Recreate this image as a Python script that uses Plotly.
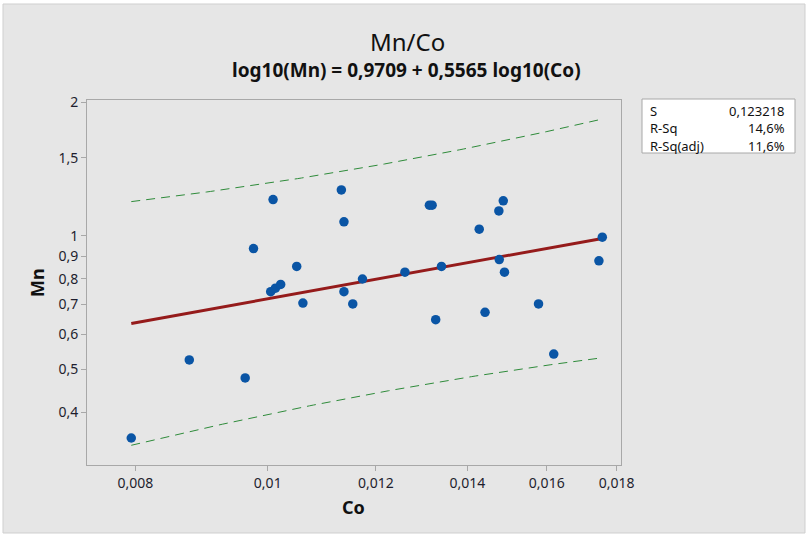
import numpy as np
import plotly.graph_objects as go

# Observations (Co, Mn)
co = [0.007946, 0.008762, 0.009627, 0.009763, 0.01009, 0.01005, 0.01013, 0.01022,
      0.01050, 0.01061, 0.01132, 0.01137, 0.01137, 0.01154, 0.01173, 0.01260,
      0.01313, 0.01319, 0.01327, 0.01340, 0.01428, 0.01442, 0.01476, 0.01487,
      0.01477, 0.01490, 0.01578, 0.01619, 0.01747, 0.01757]
mn = [0.350, 0.525, 0.478, 0.936, 1.207, 0.748, 0.762, 0.777,
      0.853, 0.705, 1.269, 1.075, 0.748, 0.702, 0.799, 0.828,
      1.172, 1.172, 0.647, 0.853, 1.035, 0.672, 1.138, 1.199,
      0.884, 0.828, 0.702, 0.541, 0.878, 0.993]

# Regression summary (log10 scale)
INTERCEPT = 0.9709
SLOPE = 0.5565
S = 0.123218
T_CRIT = 2.048  # t(0.975, df=28)
stats_labels = ["S", "R-Sq", "R-Sq(adj)"]
stats_values = ["0,123218", "14,6%", "11,6%"]

x_ticks = [0.008, 0.01, 0.012, 0.014, 0.016, 0.018]
x_ticktext = ["0,008", "0,01", "0,012", "0,014", "0,016", "0,018"]
y_ticks = [0.4, 0.5, 0.6, 0.7, 0.8, 0.9, 1, 1.5, 2]
y_ticktext = ["0,4", "0,5", "0,6", "0,7", "0,8", "0,9", "1", "1,5", "2"]

# Fitted line and 95% prediction interval
lx = np.log10(co)
n = len(lx)
xbar = lx.mean()
sxx = ((lx - xbar) ** 2).sum()
grid = np.linspace(lx.min(), lx.max(), 120)
fit = INTERCEPT + SLOPE * grid
half = T_CRIT * S * np.sqrt(1 + 1 / n + (grid - xbar) ** 2 / sxx)
gx = 10 ** grid

W, H = 809, 536
L, R, T, B = 87, 621, 100, 465


def px(x):
    return (x - L) / (R - L)


def py(y):
    return (B - y) / (B - T)


FONT = "Noto Sans"
fig = go.Figure()
fig.add_trace(go.Scatter(x=gx, y=10 ** (fit + half), mode="lines",
                         line=dict(color="#2e8b3a", width=1, dash="9px,6px"),
                         hoverinfo="skip"))
fig.add_trace(go.Scatter(x=gx, y=10 ** (fit - half), mode="lines",
                         line=dict(color="#2e8b3a", width=1, dash="9px,6px"),
                         hoverinfo="skip"))
fig.add_trace(go.Scatter(x=gx, y=10 ** fit, mode="lines",
                         line=dict(color="#951b1b", width=3)))
fig.add_trace(go.Scatter(x=co, y=mn, mode="markers",
                         marker=dict(color="#0a55a5", size=9.5)))

axis_common = dict(type="log", showgrid=False, zeroline=False, showline=True,
                   linecolor="#a8a8a8", linewidth=1, mirror=True,
                   ticks="outside", ticklen=5, tickcolor="#a8a8a8",
                   tickfont=dict(family=FONT, size=14, color="#1e1e2e"))
fig.update_xaxes(range=[np.log10(0.007375), np.log10(0.018132)],
                 tickvals=x_ticks, ticktext=x_ticktext, **axis_common)
fig.update_yaxes(range=[np.log10(0.3042), np.log10(2.024)],
                 tickvals=y_ticks, ticktext=y_ticktext, **axis_common)

shapes = [
    dict(type="rect", xref="paper", yref="paper", layer="below",
         x0=px(3), x1=px(805), y0=py(533), y1=py(4),
         fillcolor="#e6e6e6", line=dict(color="#cfcfcf", width=1)),
    dict(type="rect", xref="paper", yref="paper", layer="below",
         x0=px(642), x1=px(795), y0=py(153), y1=py(99),
         fillcolor="white", line=dict(color="#a8a8a8", width=1)),
]

annotations = [
    dict(text="Mn/Co", x=px(407), y=py(42), font=dict(family=FONT, size=24, color="#111")),
    dict(text="<b>log10(Mn) = 0,9709 + 0,5565 log10(Co)</b>", x=px(406), y=py(70),
         font=dict(family=FONT, size=19, color="#111")),
    dict(text="<b>Mn</b>", x=px(37), y=py(283), textangle=-90,
         font=dict(family=FONT, size=18, color="#111")),
    dict(text="<b>Co</b>", x=px(353), y=py(507), font=dict(family=FONT, size=18, color="#111")),
]
for a in annotations:
    a.update(xref="paper", yref="paper", showarrow=False, xanchor="center", yanchor="middle")

row_y = [110.5, 128, 145.5]
for lab, val, yy in zip(stats_labels, stats_values, row_y):
    annotations.append(dict(text=lab, x=px(648), y=py(yy), xref="paper", yref="paper",
                            showarrow=False, xanchor="left", yanchor="middle",
                            font=dict(family=FONT, size=13, color="#111")))
    annotations.append(dict(text=val, x=px(787), y=py(yy), xref="paper", yref="paper",
                            showarrow=False, xanchor="right", yanchor="middle",
                            font=dict(family=FONT, size=13, color="#111")))

fig.update_layout(width=W, height=H, margin=dict(l=L, r=W - R, t=T, b=H - B),
                  paper_bgcolor="white", plot_bgcolor="white", showlegend=False,
                  shapes=shapes, annotations=annotations)

fig.write_html("out.html")
